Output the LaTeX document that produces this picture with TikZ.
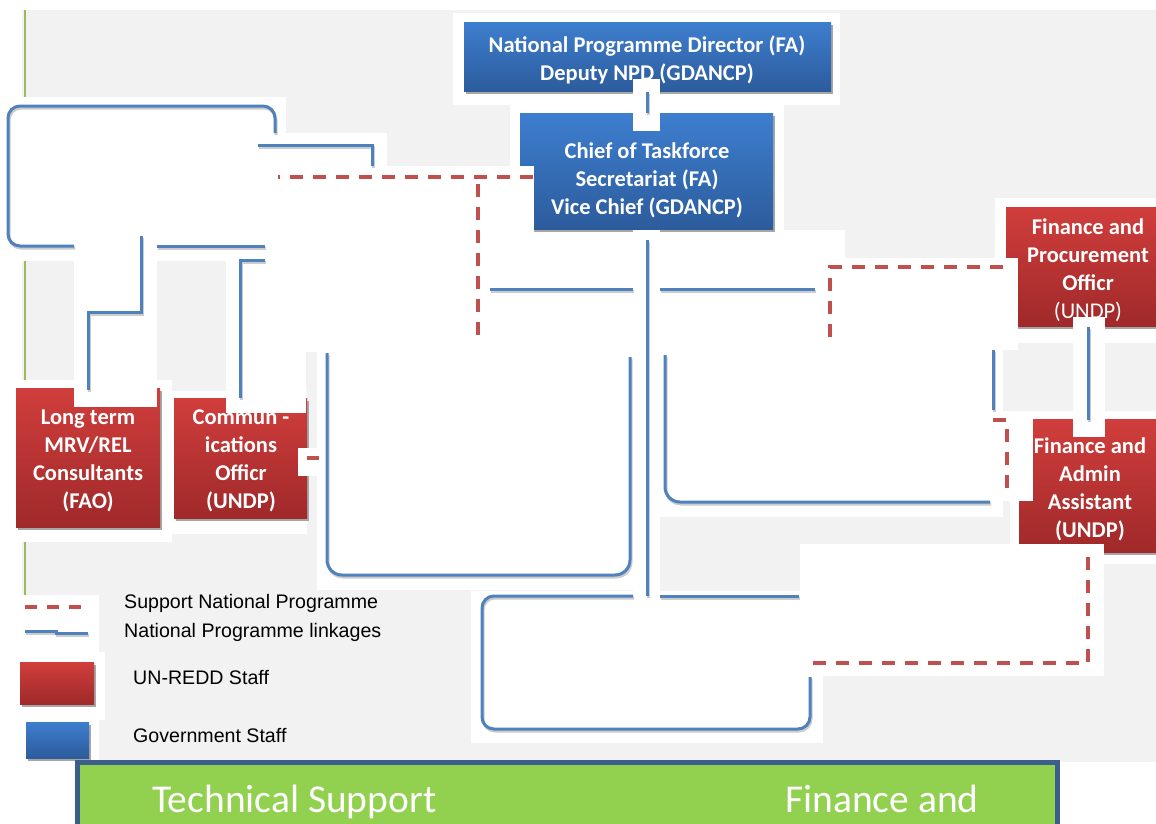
\documentclass[tikz,border=0pt]{standalone}
\usepackage{fontspec}
\setmainfont{Carlito}
\newfontfamily\legendfont{Liberation Sans}
\definecolor{bggray}{HTML}{F2F2F2}
\definecolor{lnblue}{HTML}{4F81BD}
\definecolor{lnred}{HTML}{C0504D}
\definecolor{bluetop}{HTML}{3E7ECF}
\definecolor{bluebot}{HTML}{2C5C9C}
\definecolor{redtop}{HTML}{D03E3C}
\definecolor{redbot}{HTML}{A0292A}
\definecolor{barfill}{HTML}{92D050}
\definecolor{barline}{HTML}{3B5E8C}
\definecolor{olivegreen}{HTML}{9BBB59}
\begin{document}
\begin{tikzpicture}[x=1pt,y=-1pt,
  patch/.style={fill=white, draw=none},
  blueline/.style={draw=lnblue, line width=3pt, rounded corners=12pt,
    preaction={draw=black!20, line width=3pt, transform canvas={xshift=1pt,yshift=-2pt}}},
  redline/.style={draw=lnred, line width=3.2pt, dash pattern=on 13pt off 10pt},
  bluebox/.style={top color=bluetop, bottom color=bluebot, draw=none},
  redbox/.style={top color=redtop, bottom color=redbot, draw=none},
  boxshadow/.style={fill=black!35, draw=none},
  boxtext/.style={text=white, font={\bfseries\fontsize{22.5}{28}\selectfont}, align=center, inner sep=0pt},
  legendtext/.style={font={\legendfont\fontsize{19.6}{24}\selectfont}, anchor=base west, inner sep=0pt},
  bartext/.style={text=white, font={\fontsize{39.5}{44}\selectfont}, anchor=base west, inner sep=0pt}
]
\useasboundingbox (0,0) rectangle (1156,823);
% background
\fill[white] (0,0) rectangle (1156,823);
\fill[bggray] (22,10) rectangle (1156,762);
\draw[olivegreen, line width=2pt] (25,10) -- (25,762);
% white patches under the boxes
\fill[patch] (453,13) rectangle (840,105);
\fill[patch] (510,105) rectangle (784,230);
\fill[patch] (0,97) rectangle (286,261);
\fill[patch] (258,133) rectangle (387,166);
\fill[patch] (534,230) rectangle (845,352);
\fill[patch] (995,198) rectangle (1156,343);
\fill[patch] (22,380) rectangle (172,542);
\fill[patch] (172,391) rectangle (307,534);
\fill[patch] (317,340) rectangle (633,590);
\fill[patch] (660,350) rectangle (1003,517);
\fill[patch] (1010,411) rectangle (1156,564);
\fill[patch] (471,591) rectangle (823,743);
\fill[patch] (22,595) rectangle (99,652);
\fill[patch] (22,652) rectangle (105,720);
\fill[patch] (22,720) rectangle (99,762);
% boxes
\fill[boxshadow] (466,25) rectangle (833,94);
\shade[bluebox] (464,22) rectangle (831,91);
\fill[boxshadow] (522,116) rectangle (775,232);
\shade[bluebox] (520,113) rectangle (773,229);
\fill[boxshadow] (18,391) rectangle (162,530);
\shade[redbox] (16,388) rectangle (160,527);
\fill[boxshadow] (176,401) rectangle (309,521);
\shade[redbox] (174,398) rectangle (307,518);
\fill[boxshadow] (1008,210) rectangle (1160,329);
\shade[redbox] (1006,207) rectangle (1160,326);
\fill[boxshadow] (1021,422) rectangle (1160,555);
\shade[redbox] (1019,419) rectangle (1160,552);
% box texts
\node[boxtext] (npd) at (647,59.5) {National Programme Director (FA)\\Deputy NPD (GDANCP)};
\node[boxtext] (chief) at (647,180.5) {Chief of Taskforce\\Secretariat (FA)\\Vice Chief (GDANCP)};
\node[boxtext] (longterm) at (88,461) {Long term\\MRV/REL\\Consultants\\(FAO)};
\node[boxtext] (commun) at (241,461) {Commun -\\ications\\Officr\\(UNDP)};
\node[boxtext] (finproc) at (1088,270) {Finance and\\Procurement\\Officr\\{\mdseries (UNDP)}};
\node[boxtext] (finadmin) at (1090,489) {Finance and\\Admin\\Assistant\\(UNDP)};
% white patches over the boxes
\fill[patch] (633,79) rectangle (660,131);
\fill[patch] (265,166) rectangle (534,352);
\fill[patch] (74,238) rectangle (157,407);
\fill[patch] (226,248) rectangle (306,413);
\fill[patch] (298,448) rectangle (330,476);
\fill[patch] (817,258) rectangle (1018,350);
\fill[patch] (1073,317) rectangle (1105,437);
\fill[patch] (992,411) rectangle (1033,501);
\fill[patch] (800,544) rectangle (1104,676);
\fill[patch] (633,230) rectangle (660,603);
% blue linkages
\draw[blueline] (74,246) -- (8,246) -- (8,106) -- (275,106) -- (275,133);
\draw[blueline] (157,246) -- (265,246);
\draw[blueline, rounded corners=0pt] (258,145) -- (372,145) -- (372,166);
\draw[blueline, rounded corners=0pt] (141,236) -- (141,312) -- (88,312) -- (88,390);
\draw[blueline, rounded corners=0pt] (265,260) -- (240,260) -- (240,398);
\draw[blueline] (490,289) -- (633,289);
\draw[blueline] (660,289) -- (815,289);
\draw[blueline, rounded corners=15pt] (327,353) -- (327,575) -- (630,575) -- (630,357);
\draw[blueline, rounded corners=15pt] (665,355) -- (665,502) -- (990,502);
\draw[blueline] (993,350) -- (993,410);
\draw[blueline] (647,240) -- (647,596);
\draw[blueline] (647,92) -- (647,113);
\draw[blueline] (633,596) -- (482,596) -- (482,729) -- (810,729) -- (810,677);
\draw[blueline] (660,596) -- (799,596);
\draw[blueline] (1088,327) -- (1088,420);
% red support lines
\draw[redline] (533,177) -- (278,177);
\draw[redline] (478,184) -- (478,340);
\draw[redline] (1003,267) -- (830,267) -- (830,340);
\draw[lnred, line width=3.2pt] (307,458) -- (319,458);
\draw[redline] (993,420) -- (1007,420) -- (1007,486) -- (1011,486);
\draw[redline] (1088,557) -- (1088,663) -- (811,663);
% legend
\draw[redline, dash pattern=on 12pt off 10pt] (25,607) -- (83,607);
\draw[blueline, rounded corners=0pt] (25,631) -- (56,631) -- (56,633) -- (88,633);
\fill[boxshadow] (22,665) rectangle (96,707);
\shade[redbox] (20,662) rectangle (94,704);
\fill[boxshadow] (28,725) rectangle (91,761);
\shade[bluebox] (26,722) rectangle (89,758);
\node[legendtext] (lg1) at (124,608) {Support National Programme};
\node[legendtext] (lg2) at (124,637) {National Programme linkages};
\node[legendtext] (lg3) at (133,684) {UN-REDD Staff};
\node[legendtext] (lg4) at (133,742) {Government Staff};
% green bar
\draw[barline, line width=4.5pt, fill=barfill] (77.5,762.5) rectangle (1057.5,860);
\node[bartext] (tech) at (152,812) {Technical Support};
\node[bartext] (fin) at (785,812) {Finance and};
\end{tikzpicture}
\end{document}
